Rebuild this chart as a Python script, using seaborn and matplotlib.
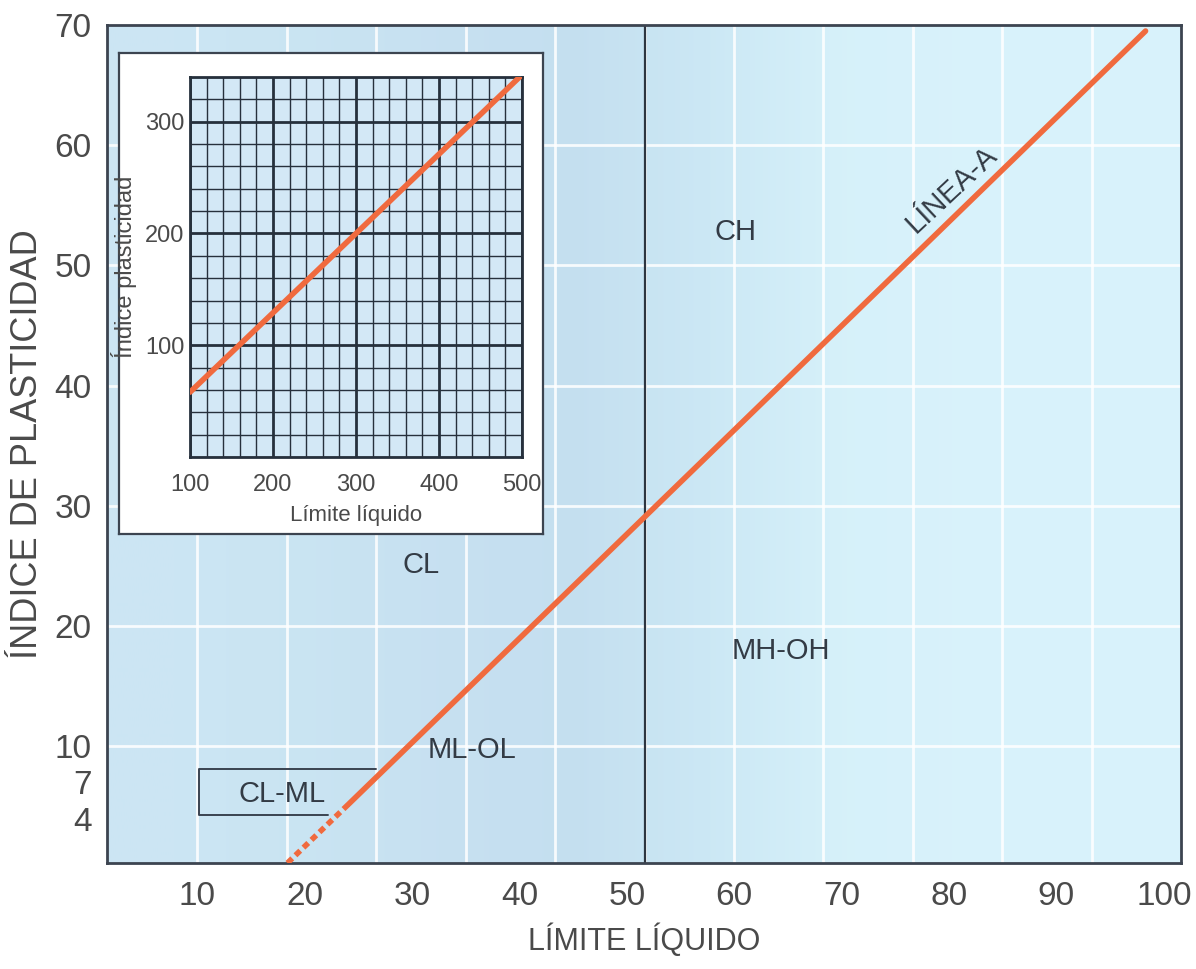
import numpy as np
import pandas as pd
import matplotlib
matplotlib.use("Agg")
import matplotlib.pyplot as plt
from matplotlib.ticker import MultipleLocator
import seaborn as sns

# main chart values
tick_ll = [10, 20, 30, 40, 50, 60, 70, 80, 90, 100]
tick_pi = [4, 7, 10, 20, 30, 40, 50, 60, 70]
aline_ll = [24.1, 98.3]
aline_pi = [5.2, 69.5]
aline_dash_ll = [18.4, 24.1]
aline_dash_pi = [0.3, 5.2]
ll_limit = 51.7
clml_ll = [26.6, 10.2, 10.2, 22.2]
clml_pi = [8.1, 8.1, 4.3, 4.3]
zone_names = ["CH", "CL", "MH-OH", "ML-OL", "CL-ML"]
zone_ll = [60.1, 30.8, 64.3, 35.6, 17.9]
zone_pi = [52.8, 25.1, 17.9, 9.7, 6.0]

# inset values
inset_ll = [100, 500]
inset_pi = [58, 342]
inset_xticks = [100, 200, 300, 400, 500]
inset_yticks = [100, 200, 300]

W, H = 1196, 969
sns.set_theme(style="white")
plt.rcParams['font.family'] = ['Liberation Sans', 'DejaVu Sans']

orange = "#f06a3e"
ink = "#333b45"
grey = "#4a4a4a"

fig = plt.figure(figsize=(W / 100, H / 100), dpi=100)
fig.patch.set_facecolor("white")

ax = fig.add_axes([107 / W, 1 - 863 / H, (1181 - 107) / W, (863 - 25) / H])
ax.set_xlim(1.6, 101.6)
ax.set_ylim(0.3, 70)

# scanned-page blue background, lighter on the right
bg = np.array([[[0.80, 0.90, 0.955], [0.79, 0.895, 0.95], [0.78, 0.88, 0.945],
                [0.77, 0.875, 0.94], [0.80, 0.91, 0.96], [0.84, 0.945, 0.98],
                [0.85, 0.95, 0.985], [0.85, 0.95, 0.985]]])
ax.imshow(bg, extent=[1.6, 101.6, 0.3, 70], aspect="auto",
          interpolation="bilinear", zorder=0)

for x in np.arange(10, 95, 8.33):
    ax.axvline(x, color="white", lw=2, alpha=0.85, zorder=1)
for y in range(10, 70, 10):
    ax.axhline(y, color="white", lw=2, alpha=0.85, zorder=1)

ax.axvline(ll_limit, color="#2d3540", lw=1.6, zorder=2)

sns.lineplot(x=aline_ll, y=aline_pi, ax=ax, color=orange, lw=4, zorder=3)
sns.lineplot(x=aline_dash_ll, y=aline_dash_pi, ax=ax, color=orange, lw=4,
             linestyle=(0, (1.2, 0.8)), zorder=3)
sns.lineplot(x=clml_ll, y=clml_pi, ax=ax, sort=False, estimator=None,
             color="#3a4350", lw=1.4, zorder=2)

for name, x, y in zip(zone_names, zone_ll, zone_pi):
    ax.text(x, y, name, fontsize=21, color=ink, ha="center", va="center",
            zorder=4)
ax.text(80.2, 56.3, "LÍNEA-A", fontsize=21, color=ink, ha="center",
        va="center", rotation=43, zorder=4)

ax.set_xticks(tick_ll)
ax.set_yticks(tick_pi)
ax.set_xticklabels([str(t) for t in tick_ll], fontsize=24, color=grey)
ax.set_yticklabels([str(t) for t in tick_pi], fontsize=24, color=grey)
ax.tick_params(axis="x", length=0, pad=13)
ax.tick_params(axis="y", length=0, pad=11)
ax.grid(False)
for s in ax.spines.values():
    s.set_color("#3c4450")
    s.set_linewidth(2)

ax.set_xlabel("LÍMITE LÍQUIDO", fontsize=22, color=grey)
ax.set_ylabel("ÍNDICE DE PLASTICIDAD", fontsize=26, color=grey)
ax.xaxis.set_label_coords(0.5, -0.072)
ax.yaxis.set_label_coords(-0.058, 0.5)

# inset box
box = fig.add_axes([119 / W, 1 - 534 / H, 424 / W, 481 / H])
box.set_facecolor("white")
box.set_xticks([])
box.set_yticks([])
for s in box.spines.values():
    s.set_color("#3c4450")
    s.set_linewidth(1.6)

ins = fig.add_axes([190 / W, 1 - 457 / H, 332 / W, 380 / H])
ins.set_facecolor("#d3e8f6")
ins.set_xlim(100, 500)
ins.set_ylim(0, 340)
ins.set_xticks(inset_xticks)
ins.set_yticks(inset_yticks)
ins.xaxis.set_minor_locator(MultipleLocator(20))
ins.yaxis.set_minor_locator(MultipleLocator(20))
ins.grid(which="major", color="#26303c", lw=2)
ins.grid(which="minor", color="#26303c", lw=1)
ins.set_axisbelow(True)
sns.lineplot(x=inset_ll, y=inset_pi, ax=ins, color=orange, lw=4, zorder=3)
ins.set_xticklabels([str(t) for t in inset_xticks], fontsize=17, color=grey)
ins.set_yticklabels([str(t) for t in inset_yticks], fontsize=17, color=grey)
ins.tick_params(which="both", length=0)
ins.tick_params(axis="x", pad=12)
ins.tick_params(axis="y", pad=4)
for s in ins.spines.values():
    s.set_color("#26303c")
    s.set_linewidth(2)
ins.set_xlabel("Límite líquido", fontsize=16, color=grey)
ins.set_ylabel("Índice plasticidad", fontsize=17, color=grey)
ins.xaxis.set_label_coords(0.5, -0.125)
ins.yaxis.set_label_coords(-0.16, 0.5)

fig.savefig("out.png", dpi=100)
